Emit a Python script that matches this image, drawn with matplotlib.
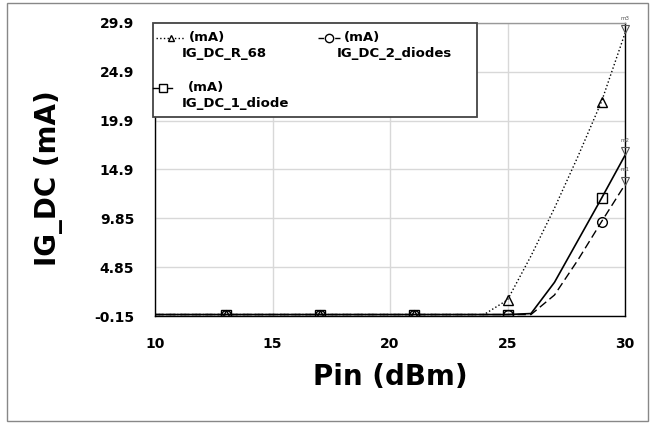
import matplotlib
matplotlib.use('Agg')
import matplotlib.pyplot as plt
import numpy as np
from matplotlib.patches import Rectangle
from matplotlib.lines import Line2D

plt.rcParams['font.family'] = ['DejaVu Sans']

pin = np.arange(10, 31, 1)
ig_r68 = [0, 0, 0, 0, 0, 0, 0, 0, 0, 0, 0, 0, 0, 0, 0, 1.5, 6.0, 10.9, 16.2, 21.8, 28.8]
ig_1diode = [0, 0, 0, 0, 0, 0, 0, 0, 0, 0, 0, 0, 0, 0, 0, 0, 0.1, 3.3, 7.6, 11.9, 16.3]
ig_2diodes = [0, 0, 0, 0, 0, 0, 0, 0, 0, 0, 0, 0, 0, 0, 0, 0, 0, 2.0, 5.6, 9.5, 13.3]
yticks = [-0.15, 4.85, 9.85, 14.85, 19.85, 24.85, 29.85]
ytick_labels = ['-0.15', '4.85', '9.85', '14.9', '19.9', '24.9', '29.9']
xticks = [10, 15, 20, 25, 30]
end_markers = [('m3', ig_r68[-1]), ('m2', ig_1diode[-1]), ('m1', ig_2diodes[-1])]

fig = plt.figure(figsize=(6.5, 4.24), dpi=100)
ax = fig.add_axes([155/650, 1-316/424, 470/650, 293/424])

mk = slice(3, None, 4)
ax.plot(pin, ig_r68, color='black', ls=':', lw=1, marker='^', markevery=mk,
        ms=7, mfc='none', mec='black', mew=1, zorder=3)
ax.plot(pin, ig_2diodes, color='black', ls=(0, (6, 3)), lw=1, marker='o', markevery=mk,
        ms=7, mfc='none', mec='black', mew=1, zorder=3)
ax.plot(pin, ig_1diode, color='black', ls='-', lw=1.2, marker='s', markevery=mk,
        ms=7, mfc='none', mec='black', mew=1, zorder=3)

for name, v in end_markers:
    ax.plot(30, v + 0.4, marker='v', ms=6, mfc='none', mec='#555555', mew=0.8,
            clip_on=False, zorder=4)
    ax.text(30, v + 1.3, name, fontsize=4, color='#555555', ha='center', va='bottom',
            clip_on=False)

ax.set_xlim(10, 30)
ax.set_ylim(-0.15, 29.85)
ax.set_xticks(xticks)
ax.set_yticks(yticks)
ax.set_yticklabels(ytick_labels)
ax.tick_params(length=0, labelsize=10)
ax.tick_params(axis='y', pad=15)
ax.tick_params(axis='x', pad=15)
for lab in ax.get_xticklabels() + ax.get_yticklabels():
    lab.set_fontweight('bold')
ax.grid(True, color='#d8d8d8', lw=1)
ax.set_axisbelow(True)
ax.spines['top'].set_color('#999999')
ax.spines['right'].set_color('black')
for s in ax.spines.values():
    s.set_linewidth(1)

ax.set_xlabel('Pin (dBm)', fontsize=20, fontweight='bold')
ax.set_ylabel('IG_DC (mA)', fontsize=20, fontweight='bold')
ax.xaxis.set_label_coords(0.5, -0.16)
ax.yaxis.set_label_coords(-0.196, 0.47)

# outer frame
fig.patches.append(Rectangle((7/650, 1-421/424), 641/650, 418/424, transform=fig.transFigure,
                             fill=False, ec='#888888', lw=1))

# legend box
def fx(px):
    return px / 650

def fy(py):
    return 1 - py / 424

fig.patches.append(Rectangle((fx(153), fy(117)), fx(477) - fx(153), fy(23) - fy(117),
                             transform=fig.transFigure, fc='white', ec='#444444', lw=1.3,
                             zorder=5))

entries = [
    (':', '^', 156, 185, 38, 'IG_DC_R_68'),
    ((0, (4, 2)), 'o', 318, 340, 38, 'IG_DC_2_diodes'),
    ('-', 's', 153, 172, 88, 'IG_DC_1_diode'),
]
for ls, m, x0, x1, yy, name in entries:
    fig.lines.append(Line2D([fx(x0), fx(x1)], [fy(yy), fy(yy)], transform=fig.transFigure,
                            color='black', ls=ls, lw=1, zorder=6))
    fig.lines.append(Line2D([fx((x0 + x1) / 2)], [fy(yy)], transform=fig.transFigure,
                            marker=m, ms=6 if m != '^' else 5, mfc='white', mec='black',
                            mew=1, zorder=7))
    fig.text(fx(x1 + 4 if m != 's' else 188), fy(yy), '(mA)', fontsize=9.5,
             fontweight='bold', va='center', ha='left', zorder=8)
    fig.text(fx(x1 - 3 if m != 's' else 182), fy(yy + 15), name, fontsize=9.5,
             fontweight='bold', va='center', ha='left', zorder=8)

fig.savefig('out.png', dpi=100)
